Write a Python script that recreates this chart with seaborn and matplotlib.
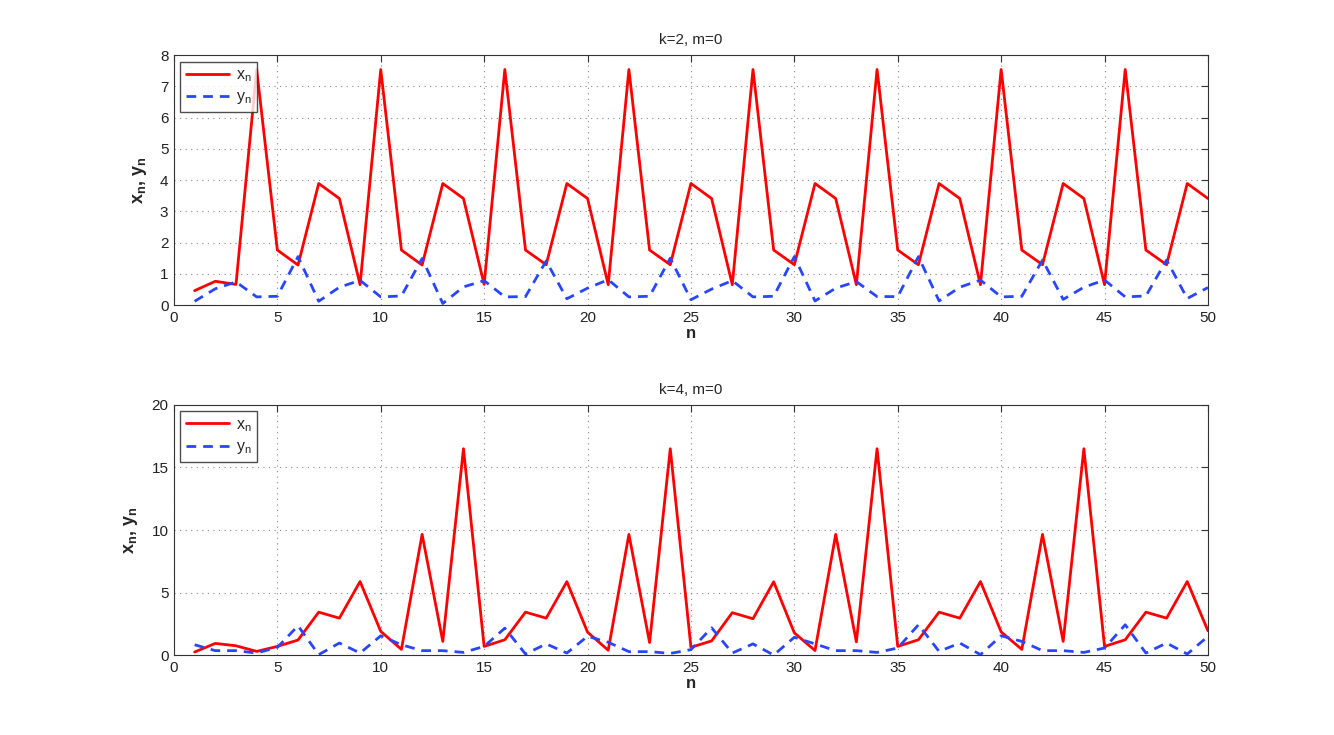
import numpy as np
import pandas as pd
import matplotlib
matplotlib.use("Agg")
import matplotlib.pyplot as plt
import seaborn as sns

# values
n = list(range(1, 51))

x_k2 = [0.46, 0.76, 0.66, 7.54, 1.76, 1.28, 3.89, 3.41, 0.65, 7.54,
        1.76, 1.28, 3.89, 3.41, 0.66, 7.54, 1.76, 1.29, 3.89, 3.41,
        0.65, 7.54, 1.76, 1.29, 3.89, 3.41, 0.65, 7.54, 1.76, 1.29,
        3.89, 3.41, 0.65, 7.54, 1.76, 1.29, 3.89, 3.41, 0.65, 7.54,
        1.76, 1.29, 3.89, 3.41, 0.65, 7.54, 1.76, 1.29, 3.89, 3.41]
y_k2 = [0.12, 0.52, 0.74, 0.26, 0.28, 1.55, 0.12, 0.57, 0.79, 0.26,
        0.29, 1.49, 0.05, 0.58, 0.78, 0.26, 0.27, 1.41, 0.20, 0.54,
        0.81, 0.26, 0.28, 1.50, 0.17, 0.51, 0.78, 0.26, 0.28, 1.55,
        0.13, 0.54, 0.75, 0.27, 0.27, 1.55, 0.13, 0.57, 0.80, 0.26,
        0.28, 1.44, 0.18, 0.57, 0.80, 0.26, 0.29, 1.44, 0.21, 0.56]

x_k4 = [0.24, 0.93, 0.74, 0.29, 0.69, 1.20, 3.43, 2.95, 5.88, 1.89,
        0.45, 9.65, 1.09, 16.5, 0.69, 1.22, 3.43, 2.95, 5.87, 1.83,
        0.38, 9.65, 1.00, 16.5, 0.62, 1.13, 3.39, 2.90, 5.86, 1.77,
        0.36, 9.65, 1.05, 16.5, 0.69, 1.22, 3.43, 2.95, 5.88, 1.85,
        0.45, 9.65, 1.09, 16.5, 0.69, 1.22, 3.43, 2.95, 5.88, 1.94]
y_k4 = [0.82, 0.35, 0.35, 0.16, 0.61, 2.34, 0.03, 0.96, 0.16, 1.54,
        0.82, 0.35, 0.35, 0.21, 0.69, 2.15, 0.08, 0.89, 0.16, 1.50,
        1.02, 0.27, 0.27, 0.13, 0.43, 2.18, 0.16, 0.89, 0.00, 1.42,
        0.89, 0.35, 0.35, 0.21, 0.56, 2.42, 0.29, 0.96, 0.03, 1.54,
        1.09, 0.35, 0.35, 0.21, 0.56, 2.42, 0.16, 0.96, 0.08, 1.49]

titles = ["k=2, m=0", "k=4, m=0"]
ylims = [(0, 8), (0, 20)]
ysteps = [1, 5]

RED = "#ff0000"
BLUE = "#2846ff"

sns.set_style("white")
plt.rcParams["font.family"] = ["Liberation Sans", "DejaVu Sans"]
plt.rcParams["mathtext.fontset"] = "custom"
plt.rcParams["mathtext.rm"] = "Liberation Sans"
plt.rcParams["mathtext.it"] = "Liberation Sans:italic"
plt.rcParams["mathtext.bf"] = "Liberation Sans:bold"

fig = plt.figure(figsize=(13.34, 7.35), dpi=100)
ax_top = fig.add_axes([0.1304, 0.585, 0.7751, 0.340])
ax_bot = fig.add_axes([0.1304, 0.1088, 0.7751, 0.3402])

panels = [(ax_top, x_k2, y_k2), (ax_bot, x_k4, y_k4)]
for i, (ax, xs, ys) in enumerate(panels):
    df = pd.DataFrame({"n": n, "x": xs, "y": ys})
    sns.lineplot(data=df, x="n", y="x", ax=ax, color=RED, lw=2,
                 label=r"x$_{\mathrm{n}}$")
    sns.lineplot(data=df, x="n", y="y", ax=ax, color=BLUE, lw=2,
                 linestyle=(0, (3.5, 2.5)), label=r"y$_{\mathrm{n}}$")

    ax.set_xlim(0, 50)
    ax.set_ylim(*ylims[i])
    ax.set_xticks(np.arange(0, 51, 5))
    ax.set_yticks(np.arange(ylims[i][0], ylims[i][1] + 0.01, ysteps[i]))
    ax.grid(True, linestyle=(0, (1, 4)), color="#888888", lw=0.8)
    ax.tick_params(direction="in", length=5, top=True, right=True, pad=4,
                   labelsize=11, color="#333333", labelcolor="#222222")
    for sp in ax.spines.values():
        sp.set_color("#333333")
        sp.set_linewidth(0.8)

    ax.set_title(titles[i], fontsize=11, pad=8)
    ax.set_xlabel("n", fontsize=12, fontweight="bold", labelpad=1)
    ax.set_ylabel(r"$\mathbf{x_n}$, $\mathbf{y_n}$", fontsize=13,
                  fontweight="bold", labelpad=8)

    leg = ax.legend(loc="upper left", fontsize=11.5, frameon=True,
                    fancybox=False, borderaxespad=0.4, handlelength=2.7,
                    handletextpad=0.45, labelspacing=0.35, borderpad=0.35)
    leg.get_frame().set_edgecolor("#222222")
    leg.get_frame().set_linewidth(1.0)

fig.savefig("out.png", dpi=100)
